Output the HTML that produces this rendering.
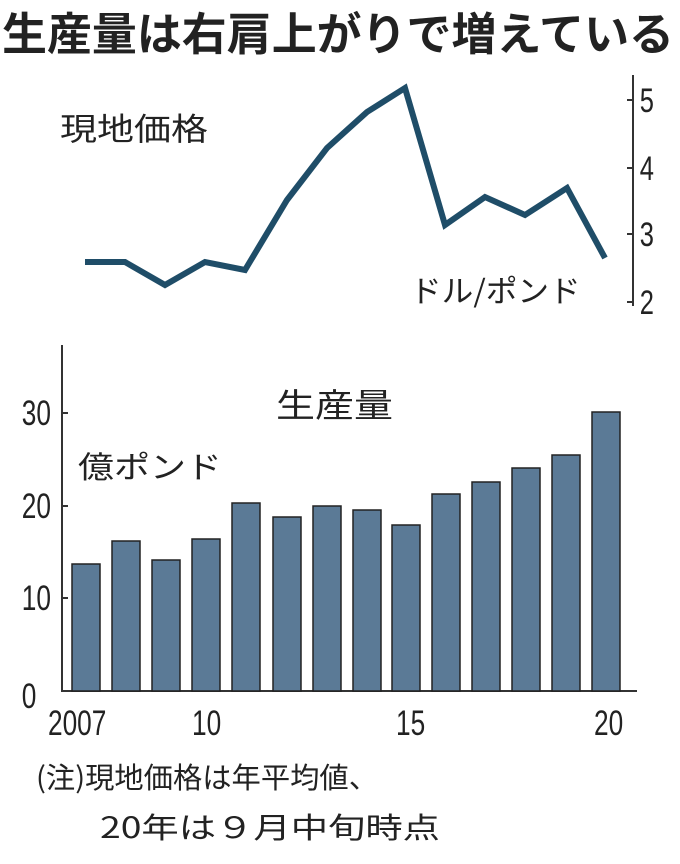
<!DOCTYPE html>
<html><head><meta charset="utf-8"><style>
body{margin:0;background:#fff;}
svg text{font-family:"Liberation Sans","Noto Sans CJK JP",sans-serif;fill:#222;}
</style></head><body>
<svg width="680" height="859" viewBox="0 0 680 859" xmlns="http://www.w3.org/2000/svg">
<text x="2" y="50" font-size="45" font-weight="bold" textLength="672" lengthAdjust="spacingAndGlyphs" fill="#222" style="font-family:'Noto Sans CJK JP',sans-serif">生産量は右肩上がりで増えている</text>
<!-- top chart -->
<line x1="633" y1="75" x2="633" y2="306" stroke="#333" stroke-width="2"/>
<g stroke="#333" stroke-width="2">
<line x1="627" y1="100" x2="633" y2="100"/><line x1="627" y1="168" x2="633" y2="168"/>
<line x1="627" y1="234" x2="633" y2="234"/><line x1="627" y1="302" x2="633" y2="302"/>
</g>
<g font-size="34" transform="scale(0.75,1)">
<text x="853" y="112">5</text><text x="853" y="180">4</text><text x="853" y="246">3</text><text x="853" y="314">2</text>
</g>
<text x="60" y="140" font-size="37" transform="translate(60,140) scale(1,0.85) translate(-60,-140)" style="font-family:'Noto Sans CJK JP',sans-serif">現地価格</text>
<text x="410" y="302" font-size="36" transform="translate(410,302) scale(0.88,0.85) translate(-410,-302)" style="font-family:'Noto Sans CJK JP',sans-serif">ドル/ポンド</text>
<polyline fill="none" stroke="#1f4d68" stroke-width="6" stroke-linejoin="miter" points="85,262 125,262 165,285 205,262 245,270 287,200 327,148 367,112 405,88 445,225 485,197 525,215 567,188 605,258"/>
<!-- bar chart -->
<line x1="62" y1="345" x2="62" y2="691" stroke="#333" stroke-width="2"/>
<line x1="61" y1="691" x2="637" y2="691" stroke="#333" stroke-width="2"/>
<g stroke="#333" stroke-width="2">
<line x1="62" y1="598" x2="68" y2="598"/><line x1="62" y1="506" x2="68" y2="506"/><line x1="62" y1="413" x2="68" y2="413"/>
</g>
<g font-size="35" transform="scale(0.75,1)">
<text x="29" y="708">0</text><text x="29" y="610">10</text><text x="29" y="518">20</text><text x="29" y="425">30</text>
<text x="64" y="735">2007</text><text x="256" y="735">10</text><text x="528" y="735">15</text><text x="792" y="735">20</text>
</g>
<text x="276" y="417" font-size="39" transform="translate(276,417) scale(1,0.85) translate(-276,-417)" style="font-family:'Noto Sans CJK JP',sans-serif">生産量</text>
<text x="78" y="478" font-size="36" transform="translate(78,478) scale(1,0.85) translate(-78,-478)" style="font-family:'Noto Sans CJK JP',sans-serif">億ポンド</text>
<g fill="#5b7a96" stroke="#222" stroke-width="1.5">
<rect x="72" y="564" width="28" height="127"/>
<rect x="112" y="541" width="28" height="150"/>
<rect x="152" y="560" width="28" height="131"/>
<rect x="192" y="539" width="28" height="152"/>
<rect x="232" y="503" width="28" height="188"/>
<rect x="273" y="517" width="28" height="174"/>
<rect x="313" y="506" width="28" height="185"/>
<rect x="353" y="510" width="28" height="181"/>
<rect x="392" y="525" width="28" height="166"/>
<rect x="432" y="494" width="28" height="197"/>
<rect x="472" y="482" width="28" height="209"/>
<rect x="512" y="468" width="28" height="223"/>
<rect x="552" y="455" width="28" height="236"/>
<rect x="592" y="412" width="28" height="279"/>
</g>
<text x="36" y="788" font-size="29" textLength="342" lengthAdjust="spacingAndGlyphs" style="font-family:'Noto Sans CJK JP',sans-serif">(注)現地価格は年平均値、</text>
<text x="100" y="838" font-size="29" textLength="340" lengthAdjust="spacingAndGlyphs" style="font-family:'Noto Sans CJK JP',sans-serif">20年は９月中旬時点</text>
</svg>
</body></html>
